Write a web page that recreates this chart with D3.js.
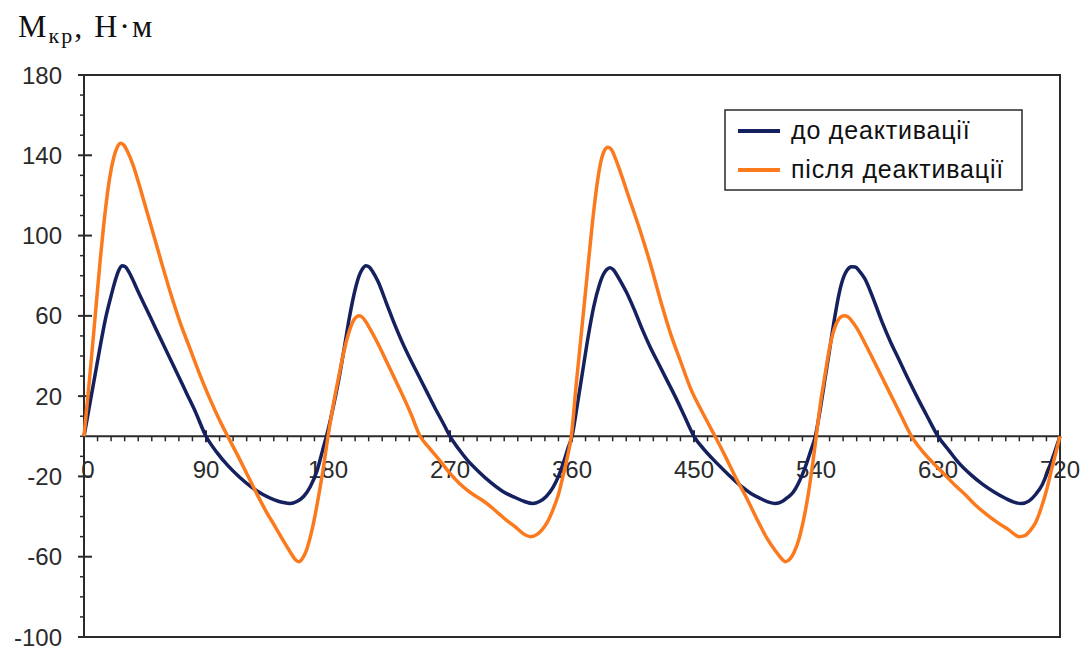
<!DOCTYPE html>
<html>
<head>
<meta charset="utf-8">
<script src="https://cdn.jsdelivr.net/npm/d3@7"></script>
<style>
  html, body { margin: 0; padding: 0; background: #fff; }
  #chart { width: 1092px; height: 652px; }
</style>
</head>
<body>
<div id="chart"></div>
<script>
// torque vs crank angle, two curves
const xTickValues = [0, 90, 180, 270, 360, 450, 540, 630, 720];
const yTickValues = [180, 140, 100, 60, 20, -20, -60, -100];
const seriesNames = ["до деактивації", "після деактивації"];

const blueAngle = [0, 4, 8, 12, 16, 20, 23, 25.5, 28, 30.5, 33, 36, 40, 46, 52, 58, 64, 70, 76, 82, 90, 98, 106, 115, 124, 132, 140, 147, 152, 157, 162, 167, 172, 176,
  180, 184, 188, 192, 196, 200, 203, 205.5, 208, 210.5, 213, 217, 223, 229, 235, 241, 247, 253, 259, 265, 270, 276, 283, 291, 300, 309, 318, 325, 331, 336, 341, 346, 350, 354, 357,
  360, 364, 368, 372, 376, 380, 383, 385.5, 388, 390.5, 393, 396, 400, 406, 412, 418, 424, 430, 436, 443, 450, 458, 467, 476, 485, 492, 499, 505, 510, 515, 519, 523, 528, 532, 536,
  539.5, 543, 546.5, 550, 553.5, 557, 560.5, 563, 566, 569, 572, 576, 582, 589, 595, 601, 608, 615, 622, 630, 638, 645, 654, 663, 672, 680, 686, 691.5, 697, 702, 707, 711, 715, 718, 720];
const blueTorque = [0, 15, 30, 45, 59, 70, 77.5, 82.5, 85, 84.5, 82, 78, 72, 63.5, 55, 46.5, 38, 29.5, 21, 12.5, 0, -8, -14.5, -20.5, -25.5, -29, -31.5, -33, -33.5, -32.5, -30, -25, -17, -7,
  3, 15, 28.5, 44, 60, 73, 80, 83.5, 85, 84.3, 82, 77, 66.5, 56, 46.5, 38, 30, 22, 14, 6.5, 0, -6, -12, -17.5, -23, -27.5, -30.5, -32.5, -33.5, -32.5, -30, -25.5, -20, -12.5, -6,
  0, 16, 33, 50, 64.5, 75, 80.5, 83, 84, 83, 80.5, 77, 72, 63, 53, 44, 36, 28, 20, 10, 0, -7, -13.5, -19.5, -25, -28.5, -31, -32.8, -33.5, -32.5, -30.5, -28, -22, -15.5, -7.5,
  0, 13, 28, 43, 58, 71, 79.5, 82.8, 84.5, 84.3, 82.3, 78.5, 69, 56.5, 47, 38.5, 28.5, 19, 10, 0, -7, -13, -19, -24, -28, -31, -32.8, -33.5, -32.3, -29, -24, -17.5, -10, -4, 0];

const orangeAngle = [0, 4, 8, 12, 16, 19, 22, 24.5, 27, 29.5, 32, 36, 43, 50, 57, 64, 71, 78, 85, 92, 99, 106, 113, 120, 127, 134, 141, 147, 152, 156, 158.5, 161, 164, 167, 170, 173, 176.5,
  180, 184, 188, 192, 196, 198.5, 201, 203, 205.5, 208, 211, 217, 223, 229, 235, 241, 248, 255, 263, 270, 277, 285, 293, 300, 306, 312, 318, 324, 329.5, 334, 338, 342, 346, 350, 354, 357,
  359.5, 363, 367, 371, 375, 379, 381.5, 384, 386.5, 389, 392, 395, 402, 410, 418, 426, 433, 440, 448, 455, 462, 465.5, 472, 480, 489, 497, 504, 510, 514, 517.5, 521, 524, 527.5, 531, 534.5, 537.5,
  540, 543, 546.5, 550, 553.5, 556, 558.5, 561, 563.5, 566, 570, 576, 582, 589, 596, 603, 610.5, 618, 626, 634, 642, 650, 658, 666, 674, 682, 690, 694, 698, 702, 706, 710, 714, 717, 720];
const orangeTorque = [0, 28, 58, 88, 114, 129, 139, 144, 146, 145, 142, 135.5, 120, 103.5, 87, 71, 56.5, 44, 31.5, 20, 9.5, 0, -9, -18.5, -28, -37, -45, -52, -57.5, -61.5, -62.5, -61, -57, -50, -41, -30, -16,
  0, 16, 30, 43, 53, 57.3, 59.5, 60, 59.2, 57, 53.5, 46, 37.5, 29, 20.5, 11.5, 0, -6, -12.5, -18.5, -23.5, -28, -31.5, -35, -38.5, -42, -45, -48.5, -50, -49, -46.5, -42.5, -36.5, -29, -18, -9,
  0, 25, 52, 79, 106, 128, 137.5, 142.5, 144, 143, 138.5, 133, 119, 103, 85.5, 66, 50.5, 37.5, 23, 13.5, 4.5, 0, -8.5, -19.5, -31, -42, -51, -57, -60.5, -62.5, -61, -57.5, -51, -41, -28, -14,
  -1, 15, 30, 44, 53.5, 57.5, 59.5, 60, 59.5, 57.8, 54, 46.5, 38.5, 29, 19.5, 10, 0, -7, -13, -18.5, -24, -29, -34.5, -39, -43, -46.5, -50, -49.5, -47, -43, -36, -27, -16, -8, 0];

(function() {
  const width = 1092, height = 652;
  const margin = { left: 84, right: 32, top: 75, bottom: 15 };
  const blue = "#14215e", orange = "#fb7a1e", ink = "#2a2a2a";
  const tickFont = "'Liberation Sans', Arial, sans-serif";

  const svg = d3.select("#chart").append("svg")
    .attr("width", width)
    .attr("height", height)
    .style("background", "#fff");

  const x = d3.scaleLinear().domain([0, 720]).range([margin.left, width - margin.right]);
  const y = d3.scaleLinear().domain([-100, 180]).range([height - margin.bottom, margin.top]);

  // axis title
  const title = svg.append("text")
    .attr("x", 18)
    .attr("y", 37)
    .style("font-family", "'Liberation Serif', 'Times New Roman', serif")
    .style("font-size", "32px")
    .style("letter-spacing", "2px")
    .attr("fill", "#111");
  title.append("tspan").text("М");
  title.append("tspan").attr("dy", 6).style("font-size", "22px").text("кр");
  title.append("tspan").attr("dy", -6).text(", Н·м");

  // frame
  svg.append("rect")
    .attr("x", x(0))
    .attr("y", y(180))
    .attr("width", x(720) - x(0))
    .attr("height", y(-100) - y(180))
    .attr("fill", "none")
    .attr("stroke", ink)
    .attr("stroke-width", 2);

  // zero line
  svg.append("line")
    .attr("x1", x(0)).attr("x2", x(720))
    .attr("y1", y(0)).attr("y2", y(0))
    .attr("stroke", ink)
    .attr("stroke-width", 2);

  // y ticks: minor every 10, major at labels
  const yMinor = d3.range(-100, 181, 10).filter(v => !yTickValues.includes(v));
  svg.append("g").selectAll("line")
    .data(yMinor)
    .join("line")
    .attr("x1", x(0) - 4).attr("x2", x(0))
    .attr("y1", d => y(d)).attr("y2", d => y(d))
    .attr("stroke", ink)
    .attr("stroke-width", 1.5);

  svg.append("g").selectAll("line")
    .data(yTickValues)
    .join("line")
    .attr("x1", x(0) - 6).attr("x2", x(0) + 8)
    .attr("y1", d => y(d)).attr("y2", d => y(d))
    .attr("stroke", ink)
    .attr("stroke-width", 2);

  svg.append("g").selectAll("text")
    .data(yTickValues)
    .join("text")
    .attr("x", 62)
    .attr("y", d => y(d))
    .attr("dy", "0.36em")
    .attr("text-anchor", "end")
    .style("font-family", tickFont)
    .style("font-size", "24px")
    .attr("fill", "#2b2b2b")
    .text(d => d);

  // x ticks on the zero line
  const xMinor = d3.range(0, 721, 10).filter(v => !xTickValues.includes(v));
  svg.append("g").selectAll("line")
    .data(xMinor)
    .join("line")
    .attr("x1", d => x(d)).attr("x2", d => x(d))
    .attr("y1", y(0)).attr("y2", y(0) + 5)
    .attr("stroke", ink)
    .attr("stroke-width", 1.5);

  svg.append("g").selectAll("line")
    .data(xTickValues)
    .join("line")
    .attr("x1", d => x(d)).attr("x2", d => x(d))
    .attr("y1", y(0) - 6).attr("y2", y(0) + 6)
    .attr("stroke", ink)
    .attr("stroke-width", 2);

  svg.append("g").selectAll("text")
    .data(xTickValues)
    .join("text")
    .attr("x", d => x(d) + (d === 0 ? 4 : 0))
    .attr("y", y(0) + 42)
    .attr("text-anchor", "middle")
    .style("font-family", tickFont)
    .style("font-size", "24px")
    .attr("fill", "#2b2b2b")
    .text(d => d);

  // curves
  const line = d3.line()
    .x(d => x(d[0]))
    .y(d => y(d[1]))
    .curve(d3.curveMonotoneX);

  const series = [
    { name: seriesNames[0], color: blue, points: d3.zip(blueAngle, blueTorque) },
    { name: seriesNames[1], color: orange, points: d3.zip(orangeAngle, orangeTorque) }
  ];

  svg.append("g").selectAll("path")
    .data(series)
    .join("path")
    .attr("d", d => line(d.points))
    .attr("fill", "none")
    .attr("stroke", d => d.color)
    .attr("stroke-width", 3.5)
    .attr("stroke-linejoin", "round");

  // ---- LEGEND ----
  const legend = svg.append("g").attr("transform", "translate(725,110)");
  legend.append("rect")
    .attr("width", 297)
    .attr("height", 80)
    .attr("fill", "#fff")
    .attr("stroke", ink)
    .attr("stroke-width", 1.5);

  const item = legend.selectAll(".legend-item")
    .data(series)
    .join("g")
    .attr("class", "legend-item")
    .attr("transform", (d, i) => `translate(0, ${21 + i * 39})`);

  item.append("line")
    .attr("x1", 13).attr("x2", 55)
    .attr("stroke", d => d.color)
    .attr("stroke-width", 4);

  item.append("text")
    .attr("x", 66)
    .attr("dy", "0.32em")
    .style("font-family", tickFont)
    .style("font-size", "25px")
    .style("letter-spacing", "0.8px")
    .attr("fill", "#111")
    .text(d => d.name);
})();
</script>
</body>
</html>
